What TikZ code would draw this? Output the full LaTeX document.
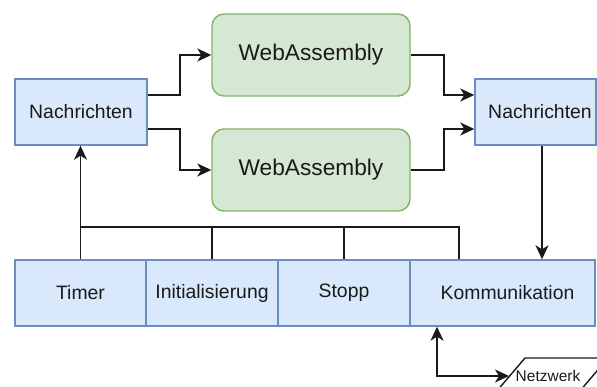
\documentclass[tikz,border=0pt]{standalone}
\usepackage{fontspec}
\setmainfont{Liberation Sans}
\usetikzlibrary{arrows.meta}

\definecolor{bluefill}{HTML}{DAE8FC}
\definecolor{blueline}{HTML}{6C8EBF}
\definecolor{greenfill}{HTML}{D5E8D4}
\definecolor{greenline}{HTML}{82B366}
\definecolor{ink}{HTML}{1A1A1A}

\tikzset{
  bluebox/.style={draw=blueline, fill=bluefill, line width=1.4pt, inner sep=0pt,
    minimum height=66pt, text=ink, font=\fontsize{19.4}{23}\selectfont},
  wabox/.style={draw=greenline, fill=greenfill, line width=1.4pt, inner sep=0pt,
    rounded corners=12pt, minimum width=198pt, minimum height=82pt, text=ink,
    font=\fontsize{22.7}{27}\selectfont},
  conn/.style={draw=ink, line width=1.6pt},
  tip/.style={-{Stealth[length=14pt,width=13pt,inset=4pt]}},
}

\begin{document}
\begin{tikzpicture}[x=1pt, y=-1pt]
  \useasboundingbox (0,0) rectangle (597,387);
  \clip (0,0) rectangle (597,387);

  % message boxes
  \node[bluebox, minimum width=132pt] (nl) at (81,112) {Nachrichten};
  \node[bluebox, minimum width=121pt] (nr) at (535.5,112) {\hspace*{9pt}Nachrichten};

  % WebAssembly modules
  \node[wabox] (wa1) at (311,55) {WebAssembly};
  \node[wabox] (wa2) at (311,170) {WebAssembly};

  % bottom row of components
  \node[bluebox, minimum width=131pt] (timer) at (80.5,293) {Timer};
  \node[bluebox, minimum width=132pt] (init)  at (212,293) {Initialisierung};
  \node[bluebox, minimum width=132pt] (stopp) at (344,293) {Stopp};
  \node[bluebox, minimum width=185pt] (komm)  at (502.5,293) {\hspace*{10pt}Kommunikation};

  % network
  \draw[ink, line width=1.4pt] (525,358) -- (608,358) -- (579,392) -- (496,392) -- cycle;
  \node[text=ink, font=\fontsize{15.5}{18}\selectfont, inner sep=0pt] (netz) at (548,376) {Netzwerk};
  \coordinate (netzin) at (509,376);

  % fan-out to the modules
  \draw[conn, tip] ([yshift=17pt]nl.east) -- ++(32,0) |- (wa1.west);
  \draw[conn, tip] ([yshift=-17pt]nl.east) -- ++(32,0) |- (wa2.west);

  % merge into the receiving box
  \draw[conn, tip] (wa1.east) -- ++(33,0) |- ([yshift=17pt]nr.west);
  \draw[conn, tip] (wa2.east) -- ++(33,0) |- ([yshift=-17pt]nr.west);

  % down to communication
  \draw[conn, tip] ([xshift=6.5pt]nr.south) -- ([xshift=6.5pt]nr.south |- komm.north);

  % bus from the components
  \coordinate (busR) at (459,227);
  \draw[conn] (timer.north) |- (busR) -- (busR |- komm.north);
  \draw[conn] (init.north) -- (init.north |- busR);
  \draw[conn] (stopp.north) -- (stopp.north |- busR);
  \draw[conn, tip] (timer.north) -- (timer.north |- nl.south);

  % link between communication and network
  \draw[conn, {Stealth[length=14pt,width=13pt,inset=4pt]}-{Stealth[length=14pt,width=13pt,inset=4pt]}]
    ([xshift=-65.5pt]komm.south) |- (netzin);
\end{tikzpicture}
\end{document}
